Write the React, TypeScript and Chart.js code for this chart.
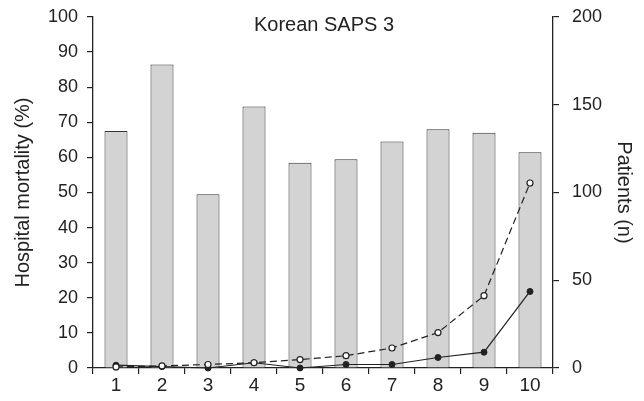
import React, { useEffect, useRef } from "react";
import { Chart, registerables } from "chart.js";

Chart.register(...registerables);

// Score deciles on the x axis
const deciles = ["1", "2", "3", "4", "5", "6", "7", "8", "9", "10"];
// Number of patients in each decile (right axis)
const patients = [135, 173, 99, 149, 117, 119, 129, 136, 134, 123];
// Predicted hospital mortality, % (dashed line, open circles)
const predicted = [0.3, 0.6, 1.0, 1.5, 2.4, 3.5, 5.7, 10.1, 20.6, 52.7];
// Observed hospital mortality, % (solid line, filled circles)
const observed = [0.8, 0.4, 0, 1.5, 0, 1.0, 1.0, 3.0, 4.5, 21.8];

const chartTitle = "Korean SAPS 3";
const leftTitle = "Hospital mortality (%)";
const rightTitle = "Patients (n)";

const FONT = "'Liberation Sans', Arial, Helvetica, sans-serif";
const INK = "#222222";

// Writes the heading inside the top of the plotting area.
const innerTitle = {
  id: "innerTitle",
  afterDatasetsDraw(chart: any) {
    const { ctx, chartArea } = chart;
    ctx.save();
    ctx.font = `20px ${FONT}`;
    ctx.fillStyle = INK;
    ctx.textAlign = "center";
    ctx.textBaseline = "middle";
    ctx.fillText(chartTitle, (chartArea.left + chartArea.right) / 2 + 1, chartArea.top + 8);
    ctx.restore();
  },
};

export default function App() {
  const canvasRef = useRef<HTMLCanvasElement | null>(null);

  useEffect(() => {
    const canvas = canvasRef.current;
    if (!canvas) return;
    const chart = new Chart(canvas, {
      type: "bar",
      data: {
        labels: deciles,
        datasets: [
          {
            type: "line",
            label: "Predicted",
            data: predicted,
            yAxisID: "y",
            borderColor: INK,
            borderWidth: 1.2,
            borderDash: [7, 4],
            pointRadius: 3,
            pointBorderWidth: 1.2,
            pointBackgroundColor: "#ffffff",
            pointBorderColor: INK,
            clip: false,
            order: 1,
          } as any,
          {
            type: "line",
            label: "Observed",
            data: observed,
            yAxisID: "y",
            borderColor: INK,
            borderWidth: 1.2,
            pointRadius: 3,
            pointBorderWidth: 1,
            pointBackgroundColor: INK,
            pointBorderColor: INK,
            clip: false,
            order: 2,
          } as any,
          {
            type: "bar",
            label: "Patients",
            data: patients,
            yAxisID: "y1",
            backgroundColor: "#d3d3d3",
            borderColor: "#333333",
            borderWidth: 1,
            barPercentage: 0.5,
            categoryPercentage: 1,
            order: 3,
          },
        ],
      },
      options: {
        responsive: false,
        animation: false,
        layout: { padding: { top: 0, bottom: 0, left: 0, right: 0 } },
        plugins: {
          legend: { display: false },
          tooltip: { enabled: false },
          title: { display: false },
        },
        scales: {
          x: {
            offset: true,
            afterFit: (scale: any) => {
              scale.height = 33;
            },
            grid: {
              display: true,
              offset: true,
              drawOnChartArea: false,
              drawTicks: true,
              tickLength: 6,
              color: INK,
              lineWidth: 1.2,
            },
            border: { display: true, color: INK, width: 1.3 },
            ticks: {
              color: INK,
              font: { family: FONT, size: 19 },
              padding: 0,
              maxRotation: 0,
            },
          },
          y: {
            position: "left",
            min: 0,
            max: 100,
            afterFit: (scale: any) => {
              scale.width = 93;
              scale.paddingTop = 17;
              scale.paddingBottom = 10;
            },
            grid: {
              display: true,
              drawOnChartArea: false,
              drawTicks: true,
              tickLength: 6,
              color: INK,
              lineWidth: 1.2,
            },
            border: { display: true, color: INK, width: 1.3 },
            ticks: {
              stepSize: 10,
              color: INK,
              font: { family: FONT, size: 18 },
              padding: 9,
            },
            title: {
              display: true,
              text: leftTitle,
              color: INK,
              font: { family: FONT, size: 20 },
              padding: { top: 11, bottom: 0 },
            },
          },
          y1: {
            position: "right",
            min: 0,
            max: 200,
            afterFit: (scale: any) => {
              scale.width = 91;
              scale.paddingTop = 17;
              scale.paddingBottom = 10;
            },
            grid: {
              display: true,
              drawOnChartArea: false,
              drawTicks: true,
              tickLength: 6,
              color: INK,
              lineWidth: 1.2,
            },
            border: { display: true, color: INK, width: 1.3 },
            ticks: {
              stepSize: 50,
              color: INK,
              font: { family: FONT, size: 18 },
              padding: 13,
            },
            title: {
              display: true,
              text: rightTitle,
              color: INK,
              font: { family: FONT, size: 20 },
              padding: { top: 8, bottom: 0 },
            },
          },
        },
      },
      plugins: [innerTitle],
    });
    return () => chart.destroy();
  }, []);

  return (
    <div style={{ position: "absolute", left: 0, top: 0, width: 644, height: 401, background: "#ffffff" }}>
      <canvas ref={canvasRef} width={644} height={401} style={{ display: "block" }} />
    </div>
  );
}
